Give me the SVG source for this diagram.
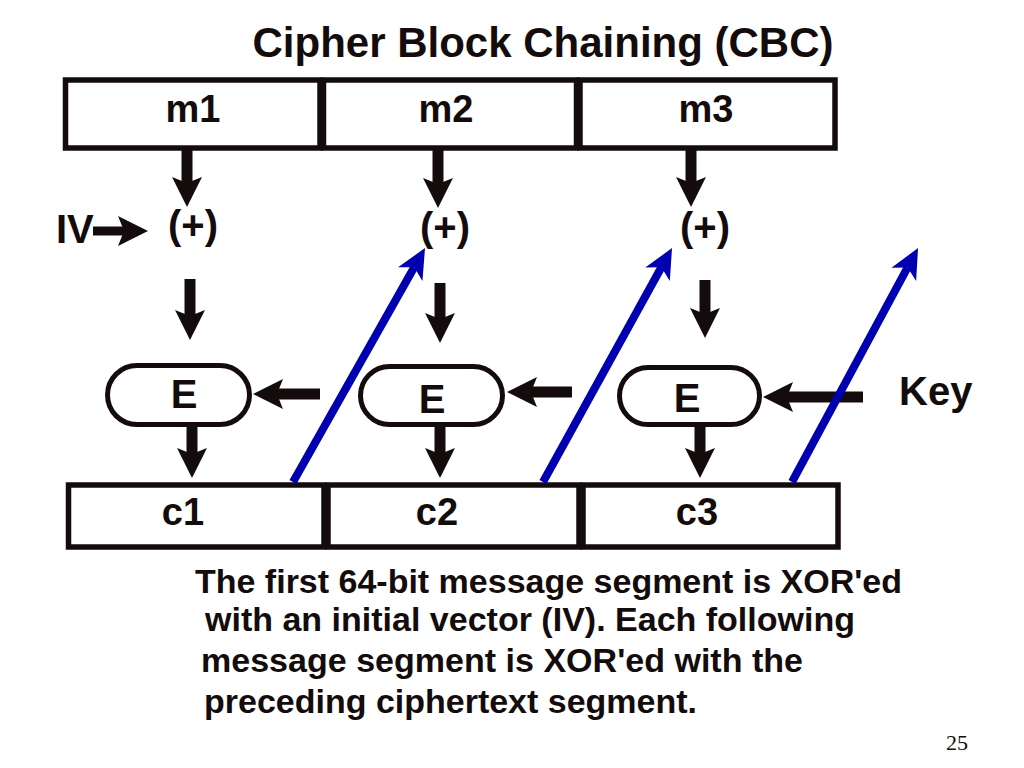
<svg xmlns="http://www.w3.org/2000/svg" width="1024" height="768" viewBox="0 0 1024 768">
<style>
.box{fill:#fff;stroke:#140c0c;stroke-width:5.5}
.ell{fill:#fff;stroke:#140c0c;stroke-width:5}
.t{font-family:"Liberation Sans",Arial,sans-serif;font-weight:bold;fill:#140c0c}
.lbl{font-size:38px;text-anchor:middle}
.big{font-size:40px}
.blk{stroke:#140c0c;stroke-width:11;fill:none;marker-end:url(#ah)}
.blu{stroke:#0000b0;stroke-width:8;fill:none;marker-end:url(#bh)}
.body{font-size:33px}
</style>
<defs>
<marker id="ah" markerUnits="userSpaceOnUse" orient="auto" refX="0" refY="0" markerWidth="60" markerHeight="60" overflow="visible">
<path d="M-6,-15 L24,0 L-6,15 L0,0 Z" fill="#140c0c"/>
</marker>
<marker id="bh" markerUnits="userSpaceOnUse" orient="auto" refX="0" refY="0" markerWidth="60" markerHeight="60" overflow="visible">
<path d="M-8,-14 L22,0 L-8,14 L0,0 Z" fill="#0000b0"/>
</marker>
</defs>
<rect width="1024" height="768" fill="#fff"/>
<text class="t" x="543" y="57" font-size="42" text-anchor="middle">Cipher Block Chaining (CBC)</text>

<g id="m1"><rect class="box" x="65.5" y="80" width="254.5" height="68"/><text class="t lbl" x="193" y="122">m1</text></g>
<g id="m2"><rect class="box" x="323.5" y="80" width="253" height="68"/><text class="t lbl" x="446" y="122">m2</text></g>
<g id="m3"><rect class="box" x="580" y="80" width="255" height="68"/><text class="t lbl" x="706" y="122">m3</text></g>

<g id="iv"><text class="t big" x="56" y="243">IV</text></g>
<g id="xor1"><text class="t big" x="193" y="239" text-anchor="middle">(+)</text></g>
<g id="xor2"><text class="t big" x="445" y="241" text-anchor="middle">(+)</text></g>
<g id="xor3"><text class="t big" x="705" y="241" text-anchor="middle">(+)</text></g>

<g id="e1"><rect class="ell" x="107.5" y="365.5" width="142" height="59" rx="29.5"/><text class="t big" x="184" y="408" text-anchor="middle">E</text></g>
<g id="e2"><rect class="ell" x="360.5" y="366.5" width="142" height="58" rx="29"/><text class="t big" x="432" y="413" text-anchor="middle">E</text></g>
<g id="e3"><rect class="ell" x="619.5" y="367.5" width="140" height="57" rx="28.5"/><text class="t big" x="687" y="412" text-anchor="middle">E</text></g>
<g id="key"><text class="t big" x="899" y="405">Key</text></g>

<g id="c1"><rect class="box" x="68.5" y="485" width="255.5" height="62"/><text class="t lbl" x="183" y="525">c1</text></g>
<g id="c2"><rect class="box" x="328" y="485" width="251" height="62"/><text class="t lbl" x="437" y="525">c2</text></g>
<g id="c3"><rect class="box" x="583" y="485" width="255" height="62"/><text class="t lbl" x="697" y="525">c3</text></g>

<g id="connectors">
<line class="blk" x1="187" y1="150" x2="187" y2="183"/>
<line class="blk" x1="438" y1="150" x2="438" y2="184"/>
<line class="blk" x1="691" y1="150" x2="691" y2="183"/>
<line class="blk" x1="93" y1="231" x2="124" y2="231" style="stroke-width:9"/>
<line class="blk" x1="190" y1="279" x2="190" y2="316"/>
<line class="blk" x1="440" y1="283" x2="440" y2="319"/>
<line class="blk" x1="705" y1="280" x2="705" y2="314"/>
<line class="blk" x1="320" y1="394" x2="277" y2="394"/>
<line class="blk" x1="572" y1="392" x2="531" y2="392"/>
<line class="blk" x1="863" y1="397" x2="787" y2="397"/>
<line class="blk" x1="192" y1="427" x2="192" y2="454"/>
<line class="blk" x1="440" y1="427" x2="440" y2="454"/>
<line class="blk" x1="700" y1="427" x2="700" y2="454"/>
<line class="blu" x1="293" y1="482" x2="414.2" y2="267.2"/>
<line class="blu" x1="543" y1="482" x2="661.4" y2="267.3"/>
<line class="blu" x1="792" y1="482" x2="907.6" y2="267.4"/>
</g>

<text class="t body" x="195" y="593" textLength="707" lengthAdjust="spacingAndGlyphs">The first 64-bit message segment is XOR'ed</text>
<text class="t body" x="205" y="631" textLength="650" lengthAdjust="spacingAndGlyphs">with an initial vector (IV). Each following</text>
<text class="t body" x="201" y="672" textLength="602" lengthAdjust="spacingAndGlyphs">message segment is XOR'ed with the</text>
<text class="t body" x="204" y="713" textLength="493" lengthAdjust="spacingAndGlyphs">preceding ciphertext segment.</text>
<text x="957" y="750" font-family="'Liberation Serif','Times New Roman',serif" font-size="22" text-anchor="middle" fill="#140c0c">25</text>
</svg>
